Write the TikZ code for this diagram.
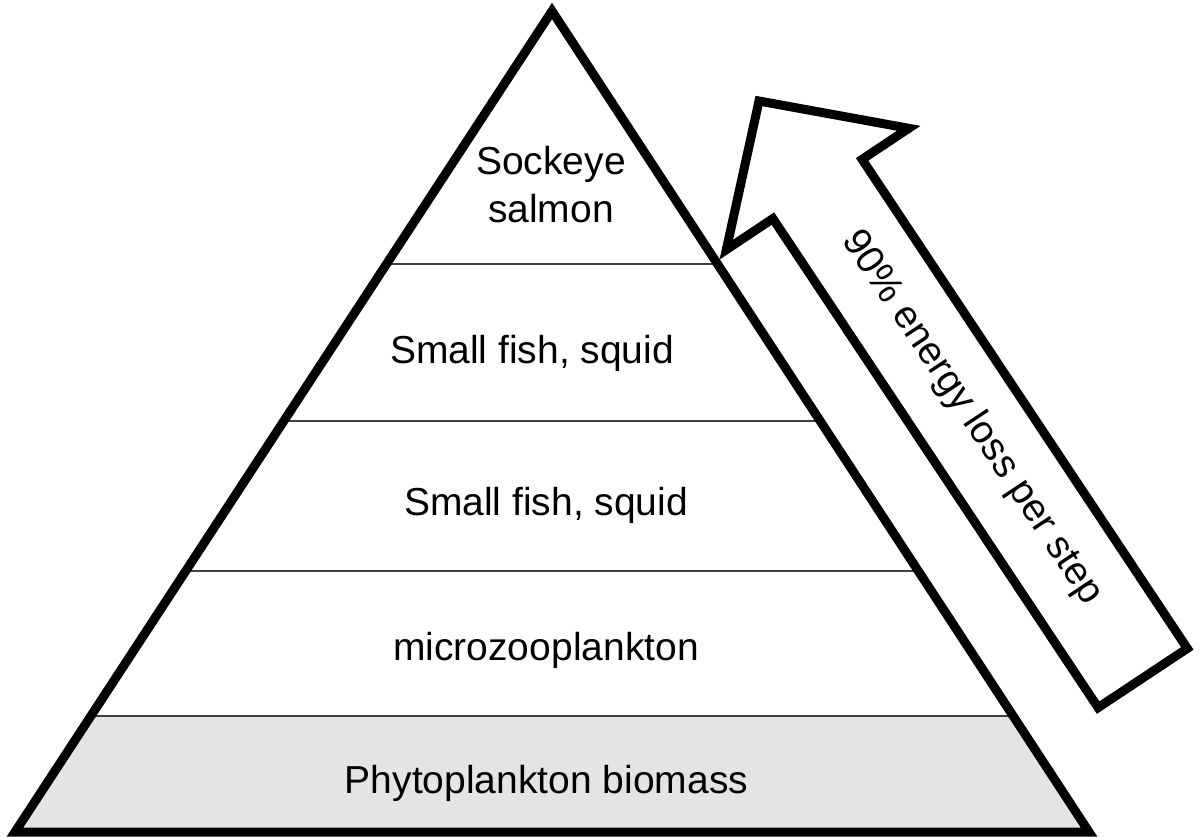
\documentclass[tikz,border=0pt]{standalone}
\usepackage{fontspec}
\setmainfont{Liberation Sans}
\usetikzlibrary{calc}
\definecolor{bandgray}{HTML}{E4E4E4}
\definecolor{divgray}{HTML}{404040}

\begin{document}
\begin{tikzpicture}[x=0.02cm, y=-0.02cm,
    outline/.style={line width=0.18cm, line join=miter},
    divider/.style={line width=0.025cm, draw=divgray},
    level/.style={font=\fontsize{22.2}{27.3}\selectfont, inner sep=0pt}]
    \useasboundingbox (0,0) rectangle (1203,836);

    % Corners of the pyramid
    \coordinate (apex) at (552,11);
    \coordinate (bl) at (15,832);
    \coordinate (br) at (1089,832);

    % Shaded base band
    \fill[bandgray] ($(apex)!{(716-11)/821}!(bl)$) -- (bl) -- (br)
        -- ($(apex)!{(716-11)/821}!(br)$) -- cycle;

    % Dividers between the levels
    \foreach \y in {264,421,571,716}{
        \pgfmathsetmacro{\levelPos}{(\y-11)/821}
        \draw[divider] ($(apex)!\levelPos!(bl)$) -- ($(apex)!\levelPos!(br)$);
      }
    \draw[outline] (apex) -- (bl) -- (br) -- cycle;

    % Level labels
    \node[level, align=center] (salmon) at (551,185) {Sockeye\\salmon};
    \node[level, anchor=base] (fishA) at (532,363) {Small fish, squid};
    \node[level, anchor=base] (fishB) at (546,515) {Small fish, squid};
    \node[level, anchor=base] (micro) at (546,660) {microzooplankton};
    \node[level, anchor=base] (phyto) at (546.5,793) {Phytoplankton biomass};

    % Block arrow, corner by corner
    \coordinate (tip) at (759,101);
    \coordinate (barbR) at (908.7,128.3);
    \coordinate (notchR) at (862.1,159.4);
    \coordinate (tailR) at (1187.3,648.4);
    \coordinate (tailL) at (1098.1,707.6);
    \coordinate (notchL) at (772.9,218.6);
    \coordinate (barbL) at (726.3,249.7);
    \draw[outline] (tip) -- (barbR) -- (notchR) -- (tailR) -- (tailL)
        -- (notchL) -- (barbL) -- cycle;
    \node[level, rotate=-56.4] (loss) at (972,418) {90\% energy loss per step};
  \end{tikzpicture}
\end{document}
